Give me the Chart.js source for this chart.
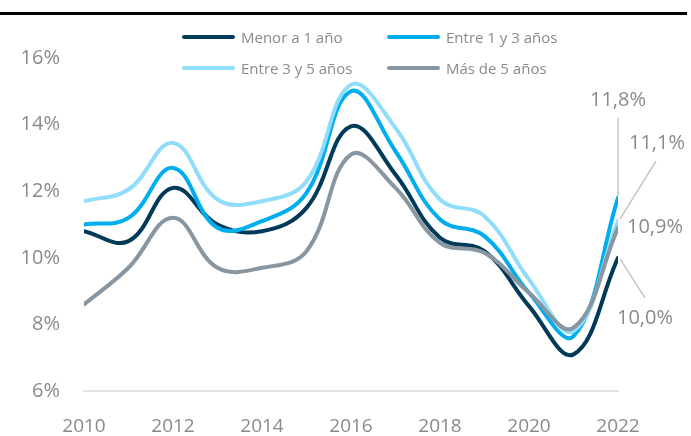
<!DOCTYPE html>
<html>
<head>
<meta charset="utf-8">
<script src="https://cdn.jsdelivr.net/npm/chart.js@4.4.1/dist/chart.umd.min.js"></script>
<style>
  html, body { margin: 0; padding: 0; background: #fff; }
  #wrap { position: relative; width: 691px; height: 436px; overflow: hidden; font-family: "Open Sans", sans-serif; }
  #topline { position: absolute; left: 0; top: 12px; width: 687px; height: 3px; background: #000; }
  .lg { position: absolute; height: 20px; display: flex; align-items: center; font-size: 15px; color: #8a8a8a; white-space: nowrap; }
  .lg .sw { width: 53px; height: 4px; border-radius: 2px; margin-right: 6px; }
  canvas { position: absolute; left: 0; top: 0; }
</style>
</head>
<body>
<div id="wrap">
  <canvas id="c" width="691" height="436"></canvas>
  <div id="topline"></div>
  <div id="legend"></div>
</div>
<script>
// ---- data ----
const years = [2010, 2011, 2012, 2013, 2014, 2015, 2016, 2017, 2018, 2019, 2020, 2021, 2022];
const seriesNames = ["Menor a 1 año", "Entre 1 y 3 años", "Entre 3 y 5 años", "Más de 5 años"];
const menor1 = [10.8, 10.5, 12.1, 11.0, 10.8, 11.5, 13.95, 12.5, 10.6, 10.2, 8.55, 7.1, 10.0];
const entre1y3 = [11.0, 11.2, 12.7, 10.9, 11.1, 11.95, 15.0, 13.2, 11.15, 10.65, 8.95, 7.65, 11.8];
const entre3y5 = [11.7, 12.05, 13.45, 11.75, 11.7, 12.3, 15.2, 13.9, 11.75, 11.25, 9.35, 7.8, 11.1];
const mas5 = [8.6, 9.7, 11.2, 9.7, 9.7, 10.2, 13.1, 12.1, 10.45, 10.15, 8.95, 7.9, 10.9];
const yTicks = [6, 8, 10, 12, 14, 16];
const xTicks = [2010, 2012, 2014, 2016, 2018, 2020, 2022];

const colors = ["#013a58", "#00aeef", "#90dcfb", "#8896a2"];
const allSeries = [menor1, entre1y3, entre3y5, mas5];

// ---- legend (HTML) ----
const legendPos = [[182, 27], [387, 27], [182, 58], [387, 58]];
const lg = document.getElementById('legend');
seriesNames.forEach((n, i) => {
  const d = document.createElement('div');
  d.className = 'lg';
  d.style.left = legendPos[i][0] + 'px';
  d.style.top = legendPos[i][1] + 'px';
  d.innerHTML = '<span class="sw" style="background:' + colors[i] + '"></span><span>' + n + '</span>';
  lg.appendChild(d);
});

// ---- end-of-line annotations ----
const annotOffsets = [
  // [seriesIndex, label dx, label dy(center), leader start dx, leader start dy]
  [1, 0, -98, 0, -80],
  [2, 39, -78, 38, -60],
  [3, 37, -1, null, null],
  [0, 27, 60, 27, 40]
];
const annotPlugin = {
  id: 'endLabels',
  afterDatasetsDraw(chart) {
    const ctx = chart.ctx;
    const xs = chart.scales.x, ys = chart.scales.y;
    const last = years.length - 1;
    ctx.save();
    annotOffsets.forEach(([si, ldx, ldy, sdx, sdy]) => {
      const v = allSeries[si][last];
      const px = xs.getPixelForValue(years[last]);
      const py = ys.getPixelForValue(v);
      if (sdx !== null) {
        ctx.strokeStyle = '#c4c4c4';
        ctx.lineWidth = 1.5;
        ctx.beginPath();
        ctx.moveTo(px + sdx, py + sdy);
        ctx.lineTo(px + (sdx > 0 ? 2 : 0), py + (sdy > 0 ? 1 : -2));
        ctx.stroke();
      }
      ctx.fillStyle = '#8a8a8a';
      ctx.font = '20px "Open Sans"';
      ctx.textAlign = 'center';
      ctx.textBaseline = 'middle';
      ctx.fillText(v.toFixed(1).replace('.', ',') + '%', px + ldx, py + ldy);
    });
    ctx.restore();
  }
};

new Chart(document.getElementById('c'), {
  type: 'line',
  data: {
    datasets: seriesNames.map((n, i) => ({
      label: n,
      data: years.map((y, k) => ({ x: y, y: allSeries[i][k] })),
      borderColor: colors[i],
      backgroundColor: colors[i],
      borderWidth: 4,
      pointRadius: 0,
      tension: 0.4,
      borderCapStyle: 'round',
      order: 4 - i
    }))
  },
  options: {
    responsive: false,
    animation: false,
    layout: { padding: { left: 0, right: 73, top: 58, bottom: 0 } },
    plugins: { legend: { display: false }, tooltip: { enabled: false } },
    scales: {
      x: {
        type: 'linear',
        min: 2010,
        max: 2022,
        afterFit: s => { s.height = 45; },
        afterBuildTicks: s => { s.ticks = xTicks.map(v => ({ value: v })); },
        grid: { display: false, drawTicks: false },
        border: { display: true, color: '#e3e3e3', width: 2 },
        ticks: {
          padding: 24,
          color: '#8a8a8a',
          font: { family: 'Open Sans', size: 19 },
          maxRotation: 0,
          callback: v => String(v)
        }
      },
      y: {
        min: 6,
        max: 16,
        afterFit: s => { s.width = 84; },
        afterBuildTicks: s => { s.ticks = yTicks.map(v => ({ value: v })); },
        grid: { display: false, drawTicks: false },
        border: { display: false },
        ticks: {
          padding: 24,
          color: '#8a8a8a',
          font: { family: 'Open Sans', size: 20 },
          callback: v => v + '%'
        }
      }
    }
  },
  plugins: [annotPlugin]
});
</script>
</body>
</html>
